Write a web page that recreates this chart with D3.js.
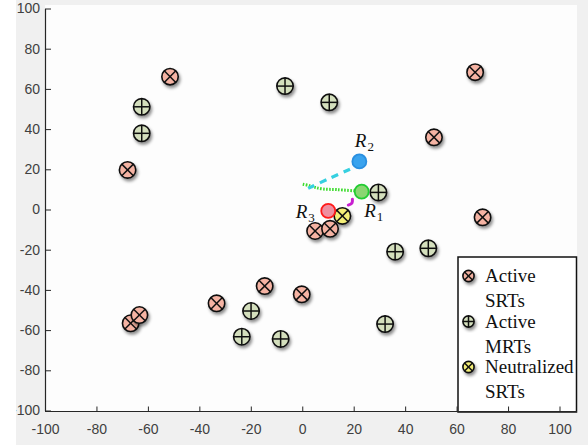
<!DOCTYPE html>
<html>
<head>
<meta charset="utf-8">
<script src="https://cdn.jsdelivr.net/npm/d3@7"></script>
<style>
  html, body { margin: 0; padding: 0; background: #f0f0f0; }
  svg { display: block; }
  .serif { font-family: "Liberation Serif", "Times New Roman", "DejaVu Serif", serif; }
</style>
</head>
<body>
<svg id="chart" width="588" height="445"></svg>
<script>
// Active single-role targets (x, y)
const activeSRTs = [
  [-51.4, 66.1], [67.2, 68.3], [51.2, 35.9], [-67.9, 19.7], [70.1, -3.9],
  [5.0, -10.7], [10.8, -9.6], [-14.6, -38.1], [-33.3, -46.7], [-0.2, -42.2],
  [-66.7, -56.6], [-63.3, -52.5]
];
// Active multi-role targets (x, y)
const activeMRTs = [
  [-6.7, 61.4], [10.5, 53.3], [-62.4, 51.1], [-62.4, 37.9], [29.6, 8.5],
  [49.0, -19.3], [36.1, -21.0], [-19.9, -50.5], [-23.5, -63.3], [-8.4, -64.4],
  [32.2, -57.0]
];
// Neutralized single-role targets
const neutralizedSRTs = [[15.6, -3.2]];

// Robot positions and their paths
const robots = [
  { name: "R", sub: "1", pos: [23.1, 8.9] },
  { name: "R", sub: "2", pos: [22.2, 23.9] },
  { name: "R", sub: "3", pos: [10.1, -0.7] }
];
const pathR1 = [[0.2, 12.6], [3.0, 11.8], [5.0, 11.0], [8.2, 10.2], [13.4, 9.9], [21.2, 9.2]];
const pathR2 = [[2.3, 10.5], [10.8, 15.6], [20.8, 21.3]];
const pathR3 = [[19.5, 5.1], [19.3, 3.2], [17.9, 2.2]];

const xTicks = [-100, -80, -60, -40, -20, 0, 20, 40, 60, 80, 100];
const yTicks = [-100, -80, -60, -40, -20, 0, 20, 40, 60, 80, 100];
const legendItems = [
  { kind: "srt", lines: ["Active", "SRTs"] },
  { kind: "mrt", lines: ["Active", "MRTs"] },
  { kind: "neu", lines: ["Neutralized", "SRTs"] }
];

const svg = d3.select("#chart");
const W = 588, H = 445;

const x = d3.scaleLinear().domain([-100, 100]).range([45, 559.5]);
const y = d3.scaleLinear().domain([-100, 100]).range([410.5, 8.5]);

const defs = svg.append("defs");
const f = defs.append("filter").attr("id", "shadow")
  .attr("x", "-50%").attr("y", "-50%").attr("width", "200%").attr("height", "200%");
f.append("feDropShadow").attr("dx", 1.5).attr("dy", 2.5).attr("stdDeviation", 1.6)
  .attr("flood-color", "#000").attr("flood-opacity", 0.45);

// figure background and plot area
svg.append("rect").attr("width", W).attr("height", H).attr("fill", "#f0f0f0");
svg.append("rect").attr("x", 45).attr("y", 5).attr("width", 532).attr("height", 407).attr("fill", "#fdfdfd");

const fills = { srt: "#f5b3a3", mrt: "#d4dfbd", neu: "#f4ef78" };

function drawMarker(g, kind, r) {
  g.append("circle").attr("r", r).attr("fill", fills[kind])
    .attr("stroke", "#111").attr("stroke-width", 1.6);
  const lines = kind === "mrt"
    ? [[-r, 0, r, 0], [0, -r, 0, r]]
    : [[-r * 0.707, -r * 0.707, r * 0.707, r * 0.707], [-r * 0.707, r * 0.707, r * 0.707, -r * 0.707]];
  lines.forEach(l => g.append("line")
    .attr("x1", l[0]).attr("y1", l[1]).attr("x2", l[2]).attr("y2", l[3])
    .attr("stroke", "#111").attr("stroke-width", 1.5));
}

const plot = svg.append("g");

// robot paths
const line = d3.line().x(d => x(d[0])).y(d => y(d[1])).curve(d3.curveCatmullRom);
plot.append("path").datum(pathR1).attr("d", line).attr("fill", "none")
  .attr("stroke", "#3ddc2e").attr("stroke-width", 3).attr("stroke-dasharray", "1.6 1.4");
plot.append("path").datum(pathR2).attr("d", line).attr("fill", "none")
  .attr("stroke", "#36d0e0").attr("stroke-width", 3.2).attr("stroke-dasharray", "7 6");
plot.append("path").datum(pathR3).attr("d", line).attr("fill", "none")
  .attr("stroke", "#c81fd0").attr("stroke-width", 3).attr("stroke-linecap", "round");

function markerLayer(data, kind) {
  plot.selectAll(null).data(data).enter().append("g")
    .attr("transform", d => `translate(${x(d[0])},${y(d[1])})`)
    .attr("filter", "url(#shadow)")
    .each(function () { drawMarker(d3.select(this), kind, 8.2); });
}
markerLayer(activeSRTs, "srt");
markerLayer(activeMRTs, "mrt");
markerLayer(neutralizedSRTs, "neu");

// robots
const robotStyle = {
  "1": { fill: "#8ad672", stroke: "#22cc33" },
  "2": { fill: "#3aa3ee", stroke: "#2a8fe0" },
  "3": { fill: "#ee8ea0", stroke: "#ff1a1a" }
};
plot.selectAll(null).data(robots).enter().append("circle")
  .attr("cx", d => x(d.pos[0])).attr("cy", d => y(d.pos[1])).attr("r", 7)
  .attr("fill", d => robotStyle[d.sub].fill)
  .attr("stroke", d => robotStyle[d.sub].stroke).attr("stroke-width", 1.8);

// robot labels
const labelOffset = { "1": [2.5, 25], "2": [-4.5, -14], "3": [-32.5, 7] };
robots.forEach(d => {
  const o = labelOffset[d.sub];
  const t = svg.append("text").attr("class", "serif")
    .attr("x", x(d.pos[0]) + o[0]).attr("y", y(d.pos[1]) + o[1])
    .attr("font-size", 19).attr("fill", "#111");
  t.append("tspan").attr("font-style", "italic").text(d.name);
  t.append("tspan").attr("font-size", 13).attr("dy", 4).attr("dx", 1).text(d.sub);
});

// legend
const lg = svg.append("g");
lg.append("rect").attr("x", 458).attr("y", 257).attr("width", 118.5).attr("height", 155)
  .attr("fill", "#fff").attr("stroke", "#111").attr("stroke-width", 1.5);
legendItems.forEach((it, i) => {
  const cy = 276 + i * 45.5;
  const g = lg.append("g").attr("transform", `translate(468.5,${cy})`).attr("filter", "url(#shadow)");
  drawMarker(g, it.kind, 5.6);
  it.lines.forEach((txt, j) => {
    lg.append("text").attr("class", "serif").attr("x", 485).attr("y", cy + 6 + j * 25)
      .attr("font-size", 19).attr("fill", "#111").text(txt);
  });
});

// axes
const xAxis = d3.axisBottom(x).tickValues(xTicks).tickSize(-5).tickSizeOuter(0).tickPadding(13)
  .tickFormat(d => String(d));
const yAxis = d3.axisLeft(y).tickValues(yTicks).tickSize(-6).tickSizeOuter(0).tickPadding(5)
  .tickFormat(d => String(d));

const gx = svg.append("g").attr("transform", "translate(0,411.5)").call(xAxis);
const gy = svg.append("g").attr("transform", "translate(45,0)").call(yAxis);
[gx, gy].forEach(g => {
  g.select(".domain").attr("stroke", "#262626").attr("stroke-width", 1.2);
  g.selectAll(".tick line").attr("stroke", "#262626");
  g.selectAll(".tick text").attr("fill", "#404040")
    .attr("font-family", "Liberation Sans, Arial, sans-serif").attr("font-size", 14);
});
gx.select(".domain").attr("d", `M45,0H577`);

// white margin strip at the left edge
svg.append("rect").attr("x", 0).attr("y", 0).attr("width", 16).attr("height", H).attr("fill", "#fff");
</script>
</body>
</html>
